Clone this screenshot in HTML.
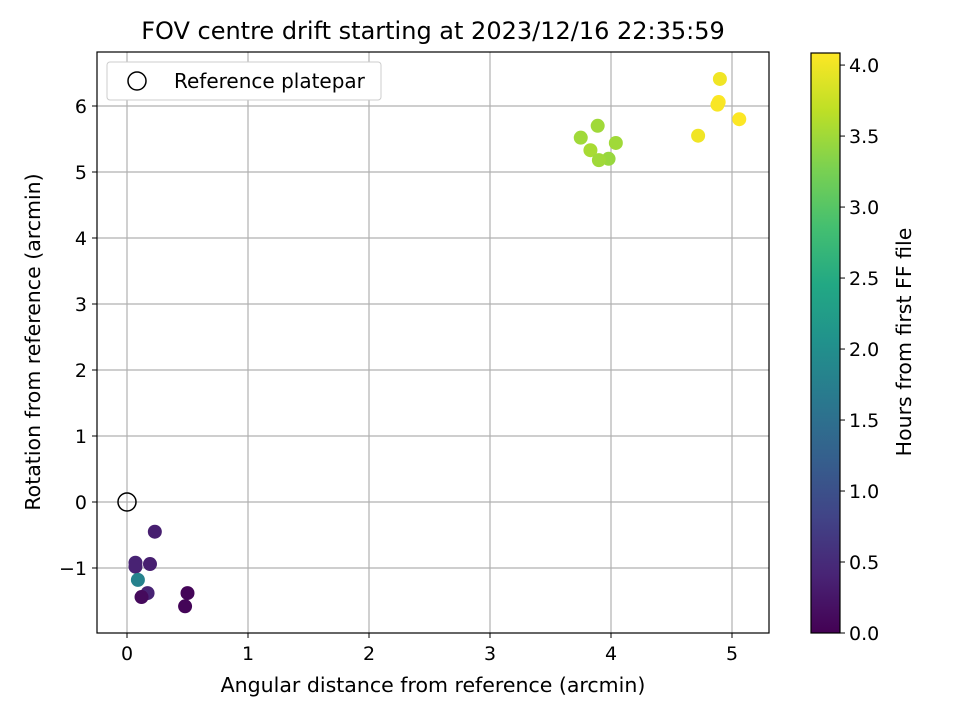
<!DOCTYPE html>
<html><head><meta charset="utf-8"><style>
body{margin:0;background:#fff;}
svg text{font-family:"DejaVu Sans","Liberation Sans",sans-serif;fill:#000;}
</style></head><body>
<svg id="chart" xmlns="http://www.w3.org/2000/svg" width="960" height="720" viewBox="0 0 960 720">
<defs>
<linearGradient id="vir" x1="0" y1="1" x2="0" y2="0">
<stop offset="0" stop-color="#440154"/><stop offset="0.1" stop-color="#482475"/><stop offset="0.2" stop-color="#414487"/><stop offset="0.3" stop-color="#355f8d"/><stop offset="0.4" stop-color="#2a788e"/><stop offset="0.5" stop-color="#21918c"/><stop offset="0.6" stop-color="#22a884"/><stop offset="0.7" stop-color="#44bf70"/><stop offset="0.8" stop-color="#7ad151"/><stop offset="0.9" stop-color="#bddf26"/><stop offset="1" stop-color="#fde725"/>
</linearGradient>
</defs>
<text x="433" y="39" font-size="24" text-anchor="middle">FOV centre drift starting at 2023/12/16 22:35:59</text>
<g id="grid"></g>
<g id="ticks"></g>
<g id="points"></g>
<rect x="97" y="52" width="672" height="581" fill="none" stroke="#000" stroke-width="1.2"/>
<text x="433" y="692" font-size="20.5" text-anchor="middle">Angular distance from reference (arcmin)</text>
<text transform="translate(40,342) rotate(-90)" font-size="20.5" text-anchor="middle">Rotation from reference (arcmin)</text>
<g>
<rect x="107" y="62" width="274" height="38" rx="3" fill="#fff" stroke="#ccc"/>
<circle cx="137" cy="81" r="9" fill="none" stroke="#000" stroke-width="1.5"/>
<text x="174" y="88" font-size="20">Reference platepar</text>
</g>
<rect x="811" y="53" width="29" height="580" fill="url(#vir)" stroke="#000" stroke-width="1.2"/>
<g id="cticks"></g>
<text transform="translate(911,342) rotate(-90)" font-size="20.5" text-anchor="middle">Hours from first FF file</text>
</svg>
<script>
const xs=[0.23,0.07,0.07,0.19,0.09,0.17,0.12,0.50,0.48,3.89,3.75,3.83,4.04,3.98,3.90,4.90,4.89,4.88,5.06,4.72];
const ys=[-0.45,-0.92,-0.98,-0.94,-1.18,-1.38,-1.44,-1.38,-1.58,5.70,5.52,5.33,5.44,5.20,5.18,6.41,6.06,6.02,5.80,5.55];
const hours=[0.35,0.40,0.38,0.35,1.8,0.4,0.1,0.05,0.05,3.5,3.5,3.55,3.5,3.45,3.5,4.0,4.08,4.05,4.08,4.0];
const xTicks=[0,1,2,3,4,5];
const yTicks=[-1,0,1,2,3,4,5,6];
const cTicks=[0.0,0.5,1.0,1.5,2.0,2.5,3.0,3.5,4.0];
const cMax=4.085;
const X=v=>127+v*121, Y=v=>502-v*66, C=v=>633-v*(580/cMax);
const vir=["#440154","#482475","#414487","#355f8d","#2a788e","#21918c","#22a884","#44bf70","#7ad151","#bddf26","#fde725"];
function hex(h){return [1,3,5].map(i=>parseInt(h.substr(i,2),16));}
function cmap(t){t=Math.max(0,Math.min(1,t))*10;const i=Math.min(9,Math.floor(t)),f=t-i;const a=hex(vir[i]),b=hex(vir[i+1]);return "rgb("+a.map((v,k)=>Math.round(v+(b[k]-v)*f)).join(",")+")";}
const NS="http://www.w3.org/2000/svg";
function mk(tag,attrs,parent){const e=document.createElementNS(NS,tag);for(const k in attrs)e.setAttribute(k,attrs[k]);document.getElementById(parent).appendChild(e);return e;}
xTicks.forEach(v=>{
 const g=mk("line",{x1:X(v),x2:X(v),y1:52,y2:633,stroke:"#b0b0b0","stroke-width":1.2},"grid");
 
 
 mk("line",{x1:X(v),x2:X(v),y1:633,y2:638,stroke:"#000"},"ticks");
 const t=mk("text",{x:X(v),y:660,"font-size":19,"text-anchor":"middle"},"ticks");t.textContent=v;
 
 
});
yTicks.forEach(v=>{
 const g=mk("line",{x1:97,x2:769,y1:Y(v),y2:Y(v),stroke:"#b0b0b0","stroke-width":1.2},"grid");
 
 
 mk("line",{x1:92,x2:97,y1:Y(v),y2:Y(v),stroke:"#000"},"ticks");
 const t=mk("text",{x:87,y:Y(v)+7,"font-size":19,"text-anchor":"end"},"ticks");t.textContent=v<0?"\u2212"+(-v):v;
 
 
});
cTicks.forEach(v=>{
 mk("line",{x1:840,x2:845,y1:C(v),y2:C(v),stroke:"#000"},"cticks");
 const t=mk("text",{x:849,y:C(v)+7,"font-size":19},"cticks");t.textContent=v.toFixed(1);
 
 
});
xs.forEach((x,i)=>{
 const c=mk("circle",{cx:X(x),cy:Y(ys[i]),r:7,fill:cmap(hours[i]/cMax)},"points");
 
 
});
const r=mk("circle",{cx:X(0),cy:Y(0),r:9,fill:"none",stroke:"#000","stroke-width":1.5},"points");


</script>
</body></html>
